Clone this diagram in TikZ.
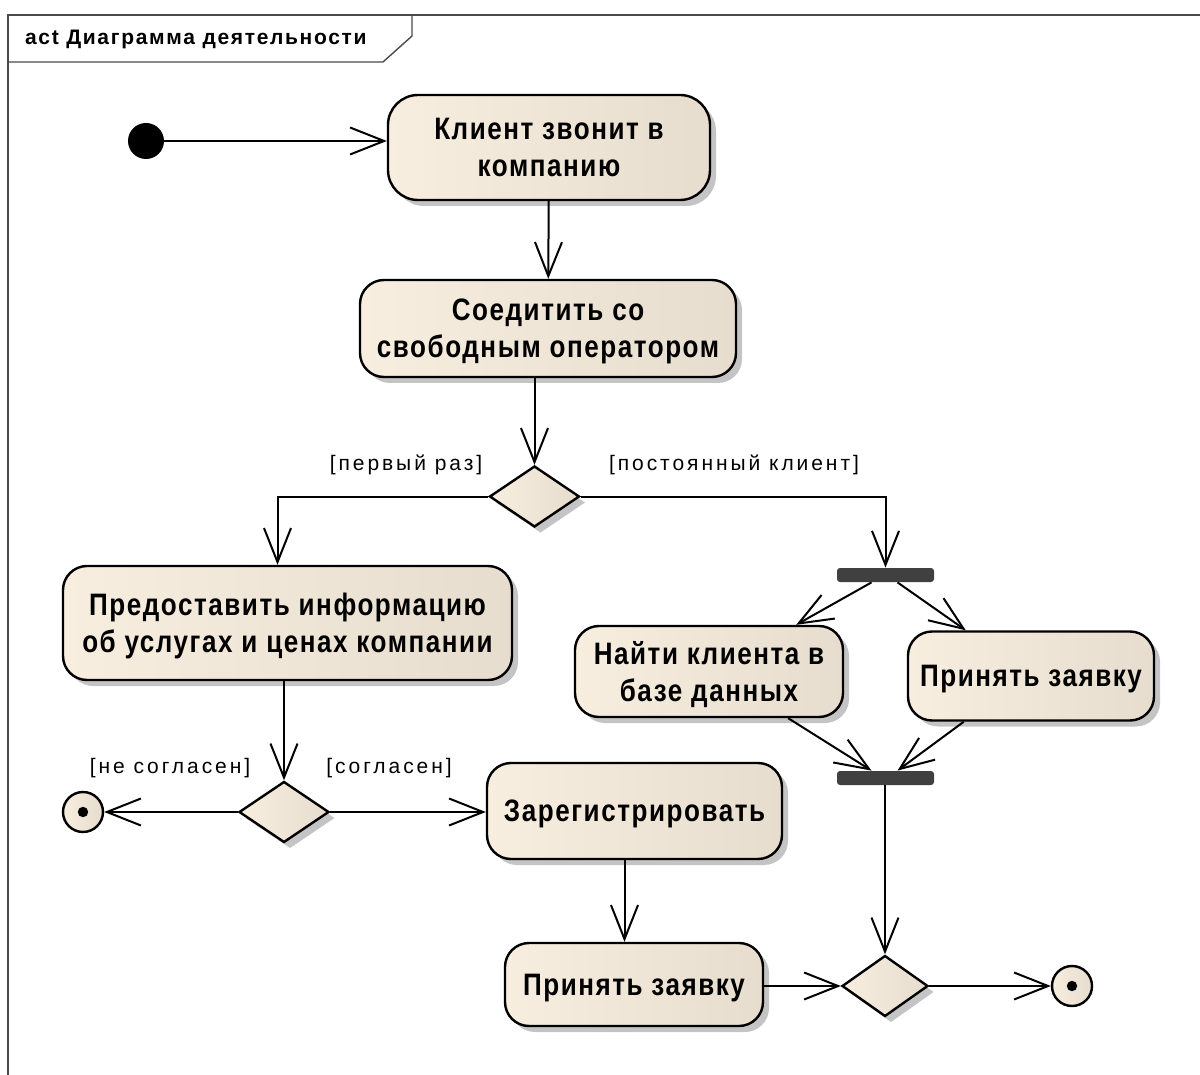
\documentclass[tikz,border=0pt]{standalone}
\usepackage{fontspec}
\setmainfont{Liberation Sans}
\newfontfamily\actfont[LetterSpace=5,FakeStretch=0.84]{Liberation Sans}
\newfontfamily\guardfont[LetterSpace=14]{Liberation Sans}
\newfontfamily\titlefont[LetterSpace=8]{Liberation Sans}
\usepackage{tikz}
\usetikzlibrary{arrows.meta,positioning,shapes.geometric,shadows,calc}
\definecolor{actl}{HTML}{F7EEDF}
\definecolor{actm}{HTML}{FCF4E8}
\definecolor{actr}{HTML}{E6DDCF}
\definecolor{shadowgray}{HTML}{C4C4C4}
\definecolor{framegray}{HTML}{4A4A4A}

\begin{document}
\begin{tikzpicture}[x=0.5pt,y=-0.5pt,
  action/.style={draw,line width=1.2pt,rounded corners=12pt,left color=actl,middle color=actm,right color=actr,
    drop shadow={shadow xshift=3pt,shadow yshift=-3pt,fill=shadowgray,opacity=1},
    font=\actfont\bfseries\fontsize{15.5}{18.5}\selectfont,align=center,inner sep=0pt,text depth=0pt},
  decision/.style={diamond,draw,line width=1.2pt,left color=actl,middle color=actm,right color=actr,
    drop shadow={shadow xshift=3pt,shadow yshift=-3pt,fill=shadowgray,opacity=1},
    minimum width=45pt,minimum height=30.5pt,inner sep=0pt},
  forkbar/.style={fill=black!75,rounded corners=1.5pt,minimum width=48.5pt,minimum height=7pt,inner sep=0pt},
  initnode/.style={circle,fill=black,minimum size=18pt,inner sep=0pt},
  finalnode/.style={circle,draw,line width=1.2pt,minimum size=20pt,inner sep=0pt,
    left color=actl,middle color=actm,right color=actr,
    path picture={\fill (path picture bounding box.center) circle (2.6pt);}},
  guard/.style={font=\guardfont\fontsize{10.5}{12}\selectfont},
  flow/.style={-{Straight Barb[length=17pt,width=13.5pt]},line width=1pt},
]
  \useasboundingbox (0,0) rectangle (1200,1075);

  % Frame
  \draw[framegray,line width=0.7pt] (8,1090) -- (8,15) -- (1215,15);
  \draw[framegray,line width=0.7pt] (8,62) -- (383,62) -- (412,36) -- (412,15);
  \node[anchor=west,font=\titlefont\bfseries\fontsize{10.5}{12}\selectfont] (title) at (18,39) {act Диаграмма деятельности};

  % Upper part
  \node[initnode] (init) at (146,141) {};
  \node[action,minimum width=161pt,minimum height=52.5pt,rounded corners=15pt] (call) at (549,147.5) {Клиент звонит в\\компанию};
  \node[action,minimum width=188pt,minimum height=48.5pt] (connect) at (548,328.5) {Соедитить со\\свободным оператором};
  \node[decision] (firstq) at (534.5,496.5) {};

  % New client
  \node[action,minimum width=224.5pt,minimum height=57pt] (inform) at (287.5,623) {Предоставить информацию\\об услугах и ценах компании};
  \node[decision] (agreeq) at (284,812) {};
  \node[finalnode] (endl) at (83,812) {};
  \node[action,minimum width=147.5pt,minimum height=48pt] (register) at (634.5,811) {Зарегистрировать};
  \node[action,minimum width=129pt,minimum height=41.5pt] (acceptl) at (634,984.5) {Принять заявку};

  % Regular client
  \node[forkbar] (fork) at (885.5,575) {};
  \node[action,minimum width=134pt,minimum height=45.5pt] (find) at (709,671.5) {Найти клиента в\\базе данных};
  \node[action,minimum width=123pt,minimum height=44.5pt] (acceptr) at (1031,676) {Принять заявку};
  \node[forkbar] (join) at (885.5,778) {};
  \node[decision,minimum width=43pt] (merge) at (885,986) {};
  \node[finalnode] (endr) at (1072,986) {};

  % Guards
  \node[guard] (gfirst) at (406,465) {[первый раз]};
  \node[guard] (gregular) at (734,465) {[постоянный клиент]};
  \node[guard] (gno) at (170,768) {[не согласен]};
  \node[guard] (gyes) at (389,768) {[согласен]};

  % Flows
  \draw[flow] (init) -- (init -| call.west);
  \draw[flow] (call) -- (connect);
  \draw[flow] (connect.south -| firstq.north) -- (firstq.north);
  \draw[flow] (firstq.west) -| ([xshift=-5pt]inform.north);
  \draw[flow] (firstq.east) -| (fork.north);
  \draw[flow] ([xshift=-7pt]fork.south) -- ([xshift=-24pt]find.north east);
  \draw[flow] ([xshift=6pt]fork.south) -- ([xshift=29.5pt]acceptr.north west);
  \draw[flow] ([xshift=-28pt]find.south east) -- ([xshift=-7pt]join.north);
  \draw[flow] ([xshift=28.5pt]acceptr.south west) -- ([xshift=6pt]join.north);
  \draw[flow] (join.south -| merge.north) -- (merge.north);
  \draw[flow] (inform.south -| agreeq.north) -- (agreeq.north);
  \draw[flow] (agreeq.west) -- (endl);
  \draw[flow] (agreeq.east) -- (register.west |- agreeq.east);
  \draw[flow] ([xshift=-5pt]register.south) -- ([xshift=-5pt]register.south |- acceptl.north);
  \draw[flow] (merge.west -| acceptl.east) -- (merge.west);
  \draw[flow] (merge.east) -- (endr);
\end{tikzpicture}
\end{document}
